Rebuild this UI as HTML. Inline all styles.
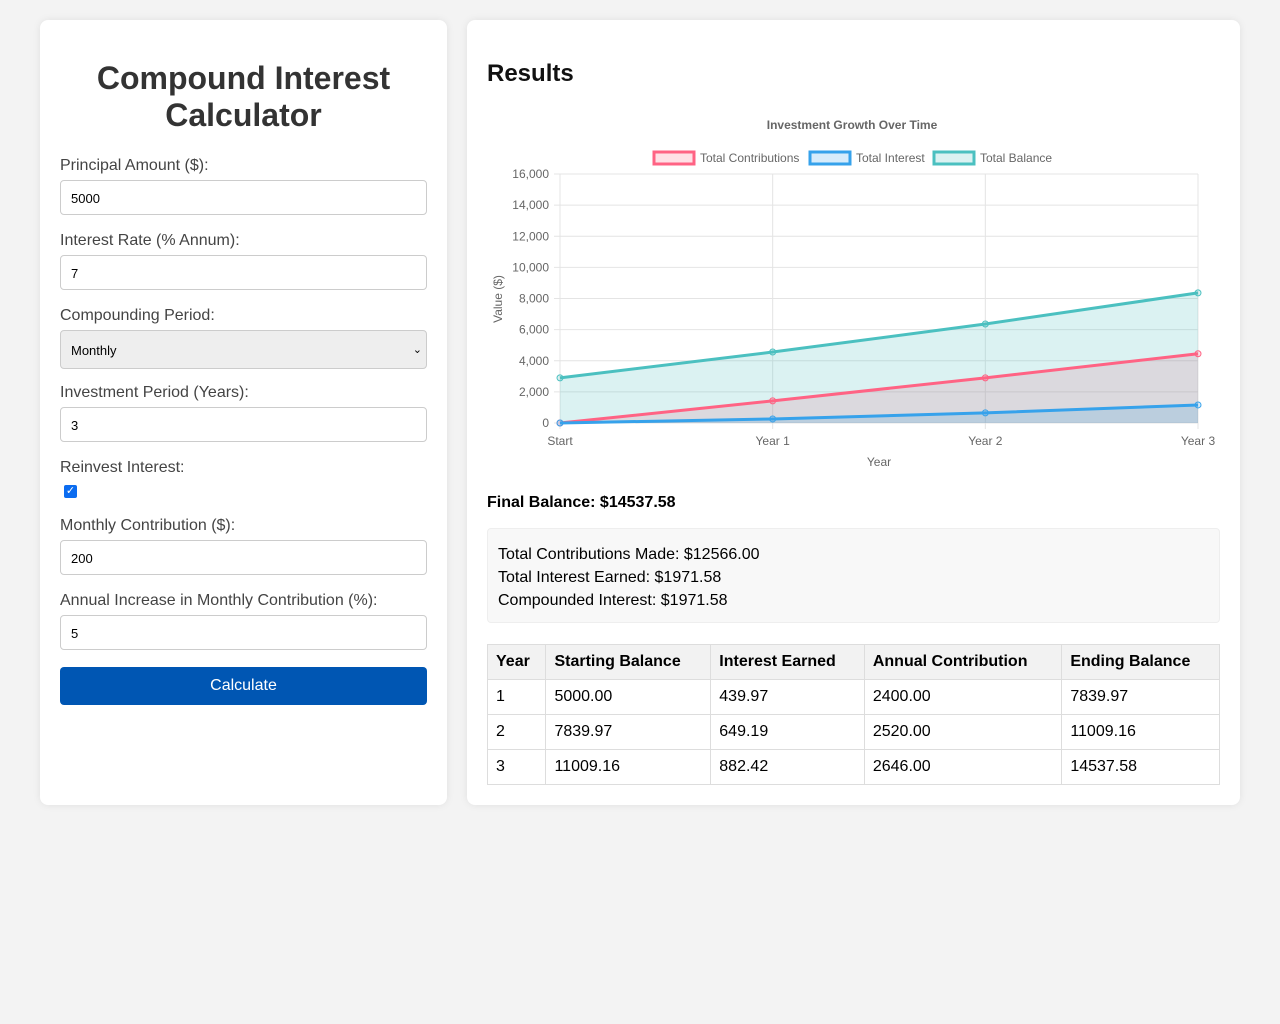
<!DOCTYPE html>
<html><head><meta charset="utf-8">
<style>
body{margin:0;background:#f3f3f3;font-family:"Liberation Sans",Arial,sans-serif;width:1280px;height:1024px;position:relative;}
.card{position:absolute;background:#fff;border-radius:8px;box-shadow:0 0 8px rgba(0,0,0,0.08);}
#left{left:40px;top:20px;width:407px;height:785px;}
#right{left:467px;top:20px;width:773px;height:785px;}
h1{position:absolute;left:0;width:407px;top:40px;margin:0;text-align:center;font-size:32px;line-height:37px;color:#333;font-weight:bold;}
.lbl{position:absolute;left:20px;font-size:16px;color:#444;}
.inp{position:absolute;left:20px;width:365px;height:35px;border:1px solid #ccc;border-radius:4px;box-sizing:border-box;width:367px;font-size:13px;padding:0 10px;line-height:35px;color:#000;background:#fff;}
.sel{background:#eee;height:39px;line-height:39px;}
.btn{position:absolute;left:20px;top:647px;width:367px;height:38px;background:#0056b3;color:#fff;border-radius:4px;font-size:16px;text-align:center;line-height:38px;}
h2{position:absolute;left:20px;top:40px;margin:0;font-size:24px;color:#111;}
.final{position:absolute;left:20px;top:474px;font-size:16px;font-weight:bold;}
.sum{position:absolute;left:20px;top:508px;width:733px;height:95px;background:#f8f8f8;border:1px solid #eee;border-radius:4px;box-sizing:border-box;padding:14px 10px;font-size:16px;line-height:23px;}
table{position:absolute;left:20px;top:624px;width:733px;border-collapse:collapse;font-size:16px;}
td,th{border:1px solid #ddd;height:34px;padding:0 8px;text-align:left;}
th{background:#f2f2f2;}
</style></head><body>
<div class="card" id="left">
<h1>Compound Interest<br>Calculator</h1>
<div class="lbl" style="top:137px">Principal Amount ($):</div>
<div class="inp" style="top:160px">5000</div>
<div class="lbl" style="top:212px">Interest Rate (% Annum):</div>
<div class="inp" style="top:235px">7</div>
<div class="lbl" style="top:287px">Compounding Period:</div>
<div class="inp sel" style="top:310px">Monthly<span style="position:absolute;right:4px;font-size:11px">&#8964;</span></div>
<div class="lbl" style="top:364px">Investment Period (Years):</div>
<div class="inp" style="top:387px">3</div>
<div class="lbl" style="top:439px">Reinvest Interest:</div>
<div style="position:absolute;left:24px;top:465px;width:13px;height:13px;background:#0b6cf0;border-radius:2px;color:#fff;font-size:11px;line-height:13px;text-align:center">✓</div>
<div class="lbl" style="top:497px">Monthly Contribution ($):</div>
<div class="inp" style="top:520px">200</div>
<div class="lbl" style="top:572px">Annual Increase in Monthly Contribution (%):</div>
<div class="inp" style="top:595px">5</div>
<div class="btn">Calculate</div>
</div>
<div class="card" id="right">
<h2>Results</h2>
<svg id="chart" style="position:absolute;left:0;top:90px" width="773" height="370"></svg>
<div class="final">Final Balance: $14537.58</div>
<div class="sum">Total Contributions Made: $12566.00<br>Total Interest Earned: $1971.58<br>Compounded Interest: $1971.58</div>
<table>
<tr><th>Year</th><th>Starting Balance</th><th>Interest Earned</th><th>Annual Contribution</th><th>Ending Balance</th></tr>
<tr><td>1</td><td>5000.00</td><td>439.97</td><td>2400.00</td><td>7839.97</td></tr>
<tr><td>2</td><td>7839.97</td><td>649.19</td><td>2520.00</td><td>11009.16</td></tr>
<tr><td>3</td><td>11009.16</td><td>882.42</td><td>2646.00</td><td>14537.58</td></tr>
</table>
</div>
<script>
const categories=["Start","Year 1","Year 2","Year 3"];
const contributions=[0,1420,2900,4450];
const interest=[0,260,650,1160];
const balance=[2900,4560,6360,8360];
const yTicks=[0,2000,4000,6000,8000,10000,12000,14000,16000];
const svg=document.getElementById('chart');
const NS='http://www.w3.org/2000/svg';
// chart origin: svg left = 467, top = 110
const X0=93,X1=731,Y0=313,Y1=64,YMAX=16000;
const xs=i=>X0+(X1-X0)*i/(categories.length-1);
const ys=v=>Y0-(Y0-Y1)*v/YMAX;
function mk(t,a,txt){const e=document.createElementNS(NS,t);for(const k in a)e.setAttribute(k,a[k]);if(txt!=null)e.textContent=txt;svg.appendChild(e);return e;}
let e;
e=mk('text',{x:385,y:19,'text-anchor':'middle','font-size':12,'font-weight':'bold',fill:'#666'},'Investment Growth Over Time');


yTicks.forEach(v=>{
 e=mk('line',{x1:X0-6,x2:X1,y1:ys(v),y2:ys(v),stroke:'#e4e4e4'});
 
 
 e=mk('text',{x:X0-11,y:ys(v)+4,'text-anchor':'end','font-size':12,fill:'#666'},v.toLocaleString('en-US'));
 
 
});
categories.forEach((c,i)=>{
 e=mk('line',{x1:xs(i),x2:xs(i),y1:Y1,y2:Y0+6,stroke:'#e4e4e4'});
 
 
 e=mk('text',{x:xs(i),y:Y0+22,'text-anchor':'middle','font-size':12,fill:'#666'},c);
 
 
});
e=mk('text',{x:412,y:356,'text-anchor':'middle','font-size':12,fill:'#666'},'Year');


e=mk('text',{x:0,y:0,transform:'translate(35,189) rotate(-90)','text-anchor':'middle','font-size':12,fill:'#666'},'Value ($)');


const series=[[contributions,'#ff6384','rgba(255,99,132,0.2)','Total Contributions'],[interest,'#36a2eb','rgba(54,162,235,0.2)','Total Interest'],[balance,'#4bc0c0','rgba(75,192,192,0.2)','Total Balance']];
series.forEach(([d,col,fill,name])=>{
 const pts=d.map((v,i)=>xs(i)+','+ys(v)).join(' ');
 e=mk('polygon',{points:xs(0)+','+Y0+' '+pts+' '+xs(d.length-1)+','+Y0,fill:fill});
 
 
});
series.forEach(([d,col,fill,name])=>{
 const pts=d.map((v,i)=>xs(i)+','+ys(v)).join(' ');
 e=mk('polyline',{points:pts,fill:'none',stroke:col,'stroke-width':3});
 
 
 d.forEach((v,i)=>{
  e=mk('circle',{cx:xs(i),cy:ys(v),r:3,fill:fill,stroke:col,'stroke-width':1});
  
  
 });
});
const legX=[186,342,466];
series.forEach(([d,col,fill,name],k)=>{
 e=mk('rect',{x:legX[k]+1,y:42,width:40,height:12,fill:fill,stroke:col,'stroke-width':3});
 
 
 e=mk('text',{x:legX[k]+47,y:52,'font-size':12,fill:'#666'},name);
 
 
});
</script>
</body></html>
